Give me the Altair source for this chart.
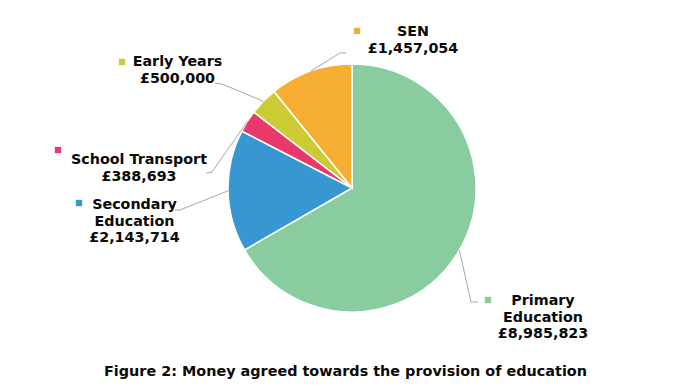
import math
import altair as alt
import pandas as pd

# ---- data ----
categories = ["Primary Education", "Secondary Education", "School Transport", "Early Years", "SEN"]
values = [8985823, 2143714, 388693, 500000, 1457054]
label_lines = [["Primary", "Education"], ["Secondary", "Education"], ["School Transport"], ["Early Years"], ["SEN"]]
colors = ["#88CCA0", "#3797D0", "#E9386A", "#CCCB33", "#F5AD34"]
title_text = "Figure 2: Money agreed towards the provision of education"

# ---- layout (chart pixels) ----
W, H = 656, 372
CX, CY, R = 344, 180, 124
LINE_H = 16.5
# text centre x, first line y, marker x, marker y
label_pos = [
    (535, 293, 480, 292),
    (126.5, 197, 71, 195),
    (131, 152, 50, 142),
    (169.5, 54, 114, 54),
    (405, 24, 349, 23),
]
# leader elbow and end points
leader_pts = [
    [(463, 294), (470, 294)],
    [(172, 202), (167, 202)],
    [(204, 164), (198, 165)],
    [(214, 76), (207, 75)],
    [(332, 45), (338, 45)],
]

FONT = "DejaVu Sans"
TXT = "#0A0A0A"

pie_df = pd.DataFrame({"category": categories, "value": values, "idx": list(range(len(values)))})

total = sum(values)
cum = 0.0
text_rows, marker_rows, line_rows = [], [], []
for i, (cat, v) in enumerate(zip(categories, values)):
    mid = (cum + v / 2) / total * 2 * math.pi
    cum += v
    tx, ty, mx, my = label_pos[i]
    lines = label_lines[i] + [f"£{v:,}"]
    for j, ln in enumerate(lines):
        text_rows.append({"x": tx, "y": ty + j * LINE_H, "t": ln})
    marker_rows.append({"x": mx, "y": my, "category": cat})
    pts = [(CX + R * math.sin(mid), CY - R * math.cos(mid))] + leader_pts[i]
    for k, (px, py) in enumerate(pts):
        line_rows.append({"x": px, "y": py, "category": cat, "k": k})

xs = alt.Scale(domain=[0, W], nice=False, zero=False)
ys = alt.Scale(domain=[H, 0], nice=False, zero=False)
cscale = alt.Scale(domain=categories, range=colors)

pie = alt.Chart(pie_df).mark_arc(radius=R, stroke="white", strokeWidth=1.5).encode(
    theta=alt.Theta("value:Q", stack=True),
    order=alt.Order("idx:Q"),
    color=alt.Color("category:N", scale=cscale, legend=None),
    x=alt.value(CX),
    y=alt.value(CY),
)

leaders = alt.Chart(pd.DataFrame(line_rows)).mark_line(color="#A6A6A6", strokeWidth=1).encode(
    x=alt.X("x:Q", scale=xs, axis=None),
    y=alt.Y("y:Q", scale=ys, axis=None),
    detail="category:N",
    order="k:Q",
)

markers = alt.Chart(pd.DataFrame(marker_rows)).mark_square(size=40, opacity=1).encode(
    x=alt.X("x:Q", scale=xs, axis=None),
    y=alt.Y("y:Q", scale=ys, axis=None),
    color=alt.Color("category:N", scale=cscale, legend=None),
)

labels = alt.Chart(pd.DataFrame(text_rows)).mark_text(
    font=FONT, fontWeight="bold", fontSize=14.3, color=TXT, align="center", baseline="middle"
).encode(
    x=alt.X("x:Q", scale=xs, axis=None),
    y=alt.Y("y:Q", scale=ys, axis=None),
    text="t:N",
)

title = alt.Chart(pd.DataFrame({"x": [337.5], "y": [364], "t": [title_text]})).mark_text(
    font=FONT, fontWeight="bold", fontSize=14.4, color=TXT, align="center", baseline="middle"
).encode(
    x=alt.X("x:Q", scale=xs, axis=None),
    y=alt.Y("y:Q", scale=ys, axis=None),
    text="t:N",
)

chart = alt.layer(pie, leaders, markers, labels, title).properties(
    width=W, height=H, padding=0
).configure_view(strokeWidth=0)

chart.save("out.html", embed_options={"renderer": "svg", "actions": False})
